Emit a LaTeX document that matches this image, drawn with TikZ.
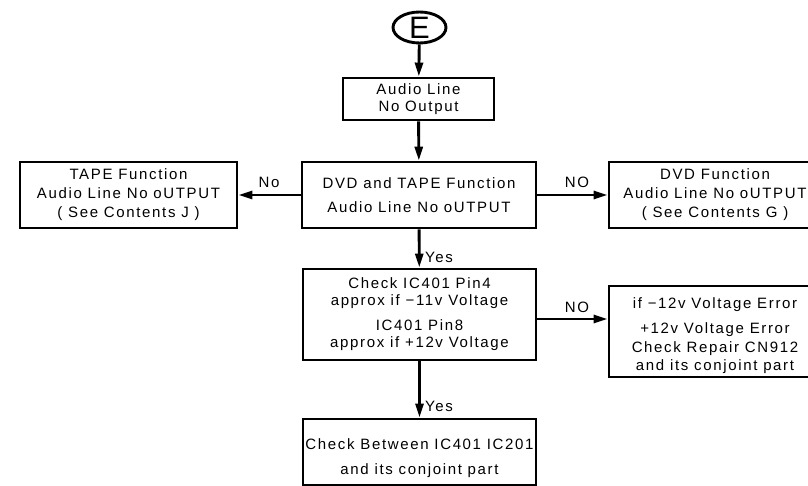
\documentclass[tikz,border=0pt]{standalone}
\usepackage{fontspec}
\setmainfont{Liberation Sans}[LetterSpace=11]
\usetikzlibrary{arrows.meta,calc,shapes.geometric}
\begin{document}
\begin{tikzpicture}[x=1pt,y=-1pt,
  box/.style={draw, line width=2.9pt, align=center, inner sep=0pt,
    font=\fontsize{15}{17}\selectfont},
  arr/.style={line width=2.9pt, -{Triangle[length=14pt,width=8pt]}},
  lbl/.style={inner sep=0pt, font=\fontsize{15}{17}\selectfont}]
\clip (0,0) rectangle (808,486);
\node[draw, ellipse, line width=2.9pt, minimum width=53pt, minimum height=31pt, inner sep=0pt,
  font=\fontsize{31}{31}\selectfont] (e) at (419.5,27.5) {E};
\node[box, minimum width=151pt, minimum height=42pt] (audio) at (418.5,99) {Audio Line\\No Output};
\node[box, minimum width=234pt, minimum height=66pt] (main) at (419,195) {DVD and TAPE Function\\[7pt]Audio Line No oUTPUT};
\node[box, minimum width=217pt, minimum height=66pt] (tape) at (128.5,195) {TAPE Function\\[2pt]Audio Line No oUTPUT\\[2pt]( See Contents J )};
\node[box, minimum width=212pt, minimum height=66pt] (dvd) at (715,195) {DVD Function\\[2pt]Audio Line No oUTPUT\\[2pt]( See Contents G )};
\node[box, minimum width=233pt, minimum height=91pt] (check) at (419.5,314.5) {Check IC401 Pin4\\approx if −11v Voltage\\[8pt]IC401 Pin8\\approx if +12v Voltage};
\node[box, minimum width=212pt, minimum height=91pt] (err) at (715,331.5) {\rule{0pt}{20pt}if −12v Voltage Error\\[8pt]+12v Voltage Error\\[2pt]Check Repair CN912\\[1pt]and its conjoint part};
\node[box, minimum width=233pt, minimum height=66pt] (bottom) at (419.5,452) {\rule{0pt}{23pt}Check Between IC401 IC201\\[8pt]and its conjoint part};
\draw[arr] (e) -- (audio);
\draw[arr] (audio) -- (main);
\draw[arr] (main) -- (tape);
\draw[arr] (main) -- (dvd);
\draw[arr] (main) -- (check);
\path (check.east) ++(0,4.5) coordinate (c1);
\draw[arr] (c1) -- (c1 -| err.west);
\draw[arr] (check) -- (bottom);
\node[lbl] (lno1) at (269,182) {No};
\node[lbl] (lno2) at (577,182) {NO};
\node[lbl] (lno3) at (577,307) {NO};
\node[lbl, anchor=west] (ly1) at (425,257) {Yes};
\node[lbl, anchor=west] (ly2) at (425,406) {Yes};
\end{tikzpicture}
\end{document}
